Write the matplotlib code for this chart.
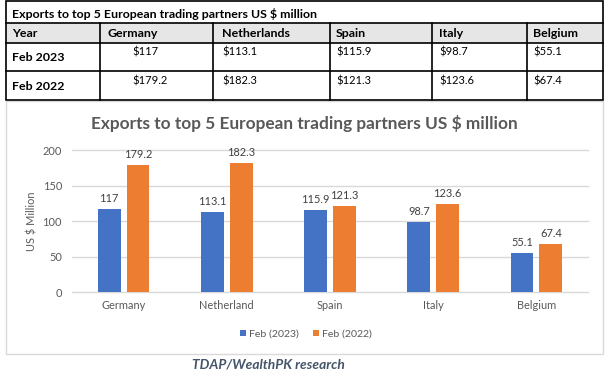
import matplotlib
matplotlib.use("Agg")
import matplotlib.pyplot as plt
import numpy as np
from matplotlib.patches import Rectangle

# ---------------- data ----------------
categories = ["Germany", "Netherland", "Spain", "Italy", "Belgium"]
table_columns = ["Year", "Germany", "Netherlands", "Spain", "Italy", "Belgium"]
row_names = ["Feb 2023", "Feb 2022"]
series_names = ["Feb (2023)", "Feb (2022)"]
feb_2023 = [117, 113.1, 115.9, 98.7, 55.1]
feb_2022 = [179.2, 182.3, 121.3, 123.6, 67.4]
y_ticks = [0, 50, 100, 150, 200]
title = "Exports to top 5 European trading partners US $ million"
y_label = "US $ Million"
caption = "TDAP/WealthPK research"

# ---------------- style ----------------
plt.rcParams['font.family'] = ['Lato', 'DejaVu Sans']
W, H = 613, 377
BLUE, ORANGE = "#4472C4", "#ED7D31"
GRAY_TXT = "#595959"
LBL_TXT = "#404040"
GRID = "#D9D9D9"

fig = plt.figure(figsize=(W / 100, H / 100), dpi=100)
renderer = fig.canvas.get_renderer()

bg = fig.add_axes([0, 0, 1, 1], zorder=0)
bg.set_xlim(0, W)
bg.set_ylim(H, 0)
bg.axis('off')


def size_for(s, target, **kw):
    t = bg.text(0, 0, s, fontsize=10, **kw)
    w = t.get_window_extent(renderer).width
    t.remove()
    return 10 * target / w


s_tb = size_for(title, 306, weight='bold')
s_tr = size_for("$113.1", 35)
s_title = size_for(title, 425, weight='bold')
s_tick = size_for("Germany", 44)
s_leg = size_for("Feb (2023)", 50)
s_cap = size_for(caption, 153, weight='bold', style='italic')

# ---------------- table ----------------
col_x = [6, 100, 213, 330, 432, 527, 603]
top, y_t, y_h, y_r1, bot = 1, 22.7, 43, 71, 99.5
bg.add_patch(Rectangle((col_x[0], y_t), col_x[-1] - col_x[0], y_h - y_t,
                       fc="#E7E6E6", ec="none", zorder=1))
bg.add_patch(Rectangle((col_x[0], top), col_x[-1] - col_x[0], bot - top,
                       fill=False, ec="black", lw=1.2, zorder=3))
for yy in (y_t, y_h, y_r1):
    bg.plot([col_x[0], col_x[-1]], [yy, yy], color="black", lw=1.2, zorder=3)
for xx in col_x[1:-1]:
    bg.plot([xx, xx], [y_t, bot], color="black", lw=1.2, zorder=3)

bg.text(12, 18.5, title, fontsize=s_tb, weight='bold', va='baseline', color="black")
hdr_x = [12, 108, 222, 336, 439, 533]
for hx, name in zip(hdr_x, table_columns):
    bg.text(hx, 37, name, fontsize=s_tb, weight='bold', va='baseline', color="black")

val_x = [132, 222, 336, 439, 533]
rows = [feb_2023, feb_2022]
name_base = [61, 90.3]
val_base = [55.5, 84.3]
for r, (rname, vals) in enumerate(zip(row_names, rows)):
    bg.text(12, name_base[r], rname, fontsize=s_tb, weight='bold', va='baseline', color="black")
    for vx, v in zip(val_x, vals):
        bg.text(vx, val_base[r], f"${v:g}", fontsize=s_tr, va='baseline', color="black")

# ---------------- chart box ----------------
bg.add_patch(Rectangle((6, 100.5), 597, 253.5, fill=False, ec=GRID, lw=1, zorder=1))

# ---------------- bar chart ----------------
y0_px, y200_px = 292.3, 150
ax = fig.add_axes([72 / W, (H - y0_px) / H, 516 / W, (y0_px - y200_px) / H], zorder=2)
ax.patch.set_alpha(0)
x = np.arange(len(categories))
bw, off = 0.22, 0.14
b1 = ax.bar(x - off, feb_2023, bw, color=BLUE, label=series_names[0], zorder=2)
b2 = ax.bar(x + off, feb_2022, bw, color=ORANGE, label=series_names[1], zorder=2)
for bars in (b1, b2):
    ax.bar_label(bars, fmt='%g', padding=3.6, fontsize=s_tick, color=LBL_TXT)

ax.set_xlim(-0.5, len(categories) - 0.5)
ax.set_ylim(0, 200)
ax.set_yticks(y_ticks)
ax.set_xticks(x, categories)
ax.grid(axis='y', color=GRID, lw=1, zorder=0)
ax.set_axisbelow(True)
for sp in ax.spines.values():
    sp.set_visible(False)
ax.tick_params(axis='both', length=0, labelsize=s_tick, labelcolor=GRAY_TXT)
ax.tick_params(axis='y', pad=7.2)
ax.tick_params(axis='x', pad=5.5)
for gl in ax.get_ygridlines():
    gl.set_clip_on(False)

bg.text(32, 221, y_label, rotation=90, ha='center', va='center', fontsize=s_tick, color=GRAY_TXT)
bg.text(304.5, 129.5, title, ha='center', va='baseline', fontsize=s_title, weight='bold', color=GRAY_TXT)

leg = fig.legend(handles=[b1, b2], loc='center', bbox_to_anchor=(306 / W, 1 - 334 / H),
                 ncol=2, frameon=False, fontsize=s_leg, handlelength=0.55, handleheight=0.55,
                 handletextpad=0.35, columnspacing=1.3, labelcolor=GRAY_TXT)

bg.text(268.5, 368.3, caption, ha='center', va='baseline', fontsize=s_cap,
        weight='bold', style='italic', color="#44546A")

fig.savefig("out.png", dpi=100)
